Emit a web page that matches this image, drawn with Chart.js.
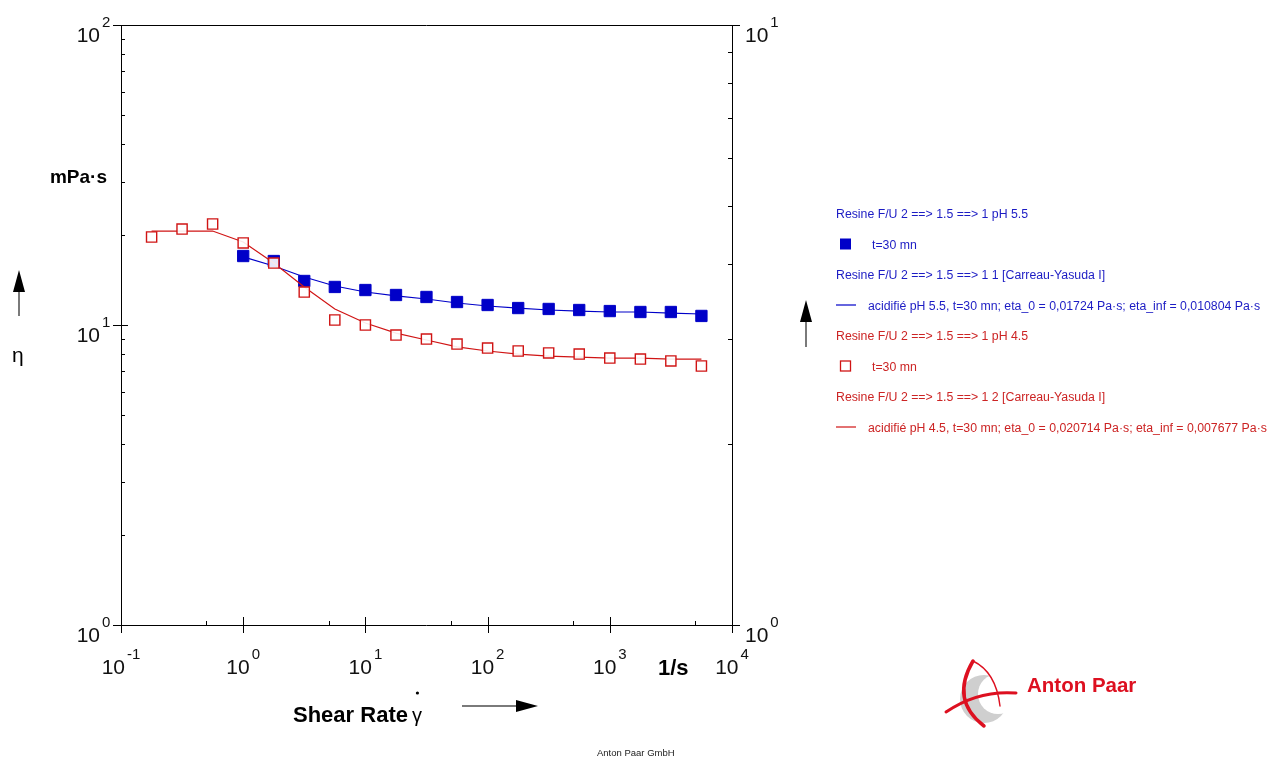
<!DOCTYPE html>
<html>
<head>
<meta charset="utf-8">
<script src="https://cdn.jsdelivr.net/npm/chart.js@4"></script>
<style>
  html, body { margin: 0; padding: 0; background: #fff; }
  #wrap { width: 1277px; height: 761px; }
</style>
</head>
<body>
<div id="wrap"><canvas id="chart" width="1277" height="761"></canvas></div>
<script>
// shear rate, 1/s (same grid for both samples, pH 5.5 starts at 1 1/s)
const shearRate = [0.178, 0.316, 0.562, 1, 1.78, 3.16, 5.62, 10, 17.8, 31.6, 56.2, 100, 178, 316, 562, 1000, 1780, 3160, 5620];

// viscosity, mPa·s
const etaPh55    = [16.98, 16.34, 14.02, 13.39, 13.08, 12.59, 12.40, 11.93, 11.66, 11.39, 11.31, 11.22, 11.13, 11.05, 11.05, 10.72];
const etaPh55Fit = [16.86, 15.73, 14.45, 13.49, 12.88, 12.50, 12.21, 11.84, 11.57, 11.39, 11.22, 11.13, 11.05, 11.05, 10.96, 10.88];
const etaPh45    = [19.65, 20.89, 21.71, 18.77, 16.09, 12.88, 10.39, 10.00, 9.26, 8.98, 8.64, 8.38, 8.19, 8.07, 8.00, 7.76, 7.70, 7.59, 7.30];
const etaPh45Fit = [20.57, 20.57, 20.57, 18.91, 16.09, 13.39, 11.31, 10.15, 9.40, 8.91, 8.45, 8.19, 8.00, 7.88, 7.82, 7.76, 7.76, 7.70, 7.70];

// tick exponents
const xTickExp = [-1, 0, 1, 2, 3, 4];
const yTickExp = [0, 1, 2];
const y2TickExp = [0, 1];

const BLUE = '#0000c8';
const RED = '#d01414';
const BLUE_TXT = '#1c1cc4';
const RED_TXT = '#cc2424';

const legendRows = [
  { text: 'Resine F/U 2 ==> 1.5 ==> 1 pH 5.5', color: BLUE_TXT },
  { text: 't=30 mn', color: BLUE_TXT, mark: 'filled' },
  { text: 'Resine F/U 2 ==> 1.5 ==> 1 1 [Carreau-Yasuda I]', color: BLUE_TXT },
  { text: 'acidifié pH 5.5, t=30 mn; eta_0 = 0,01724 Pa·s; eta_inf = 0,010804 Pa·s', color: BLUE_TXT, mark: 'line' },
  { text: 'Resine F/U 2 ==> 1.5 ==> 1 pH 4.5', color: RED_TXT },
  { text: 't=30 mn', color: RED_TXT, mark: 'open' },
  { text: 'Resine F/U 2 ==> 1.5 ==> 1 2 [Carreau-Yasuda I]', color: RED_TXT },
  { text: 'acidifié pH 4.5, t=30 mn; eta_0 = 0,020714 Pa·s; eta_inf = 0,007677 Pa·s', color: RED_TXT, mark: 'line' },
];

const toPoints = (xs, ys) => ys.map((v, i) => ({ x: xs[i], y: v }));
const blueX = shearRate.slice(shearRate.length - etaPh55.length);

const FONT = '"Liberation Sans", Arial, sans-serif';

function powLabel(ctx, exp, x, y, align, big, small) {
  // "10" with superscript exponent; y is baseline of the "10"
  ctx.font = big + 'px ' + FONT;
  const wb = ctx.measureText('10').width;
  ctx.font = small + 'px ' + FONT;
  const we = ctx.measureText(String(exp)).width;
  let x0 = x;
  if (align === 'center') x0 = x - (wb + 2 + we) / 2;
  if (align === 'right') x0 = x - wb;
  ctx.textAlign = 'left';
  ctx.font = big + 'px ' + FONT;
  ctx.fillText('10', x0, y);
  ctx.font = small + 'px ' + FONT;
  ctx.fillText(String(exp), x0 + wb + 2, y - 15);
}

function arrow(ctx, x1, y1, x2, y2) {
  const a = Math.atan2(y2 - y1, x2 - x1);
  const hl = 22, hw = 6;
  const bx = x2 - hl * Math.cos(a), by = y2 - hl * Math.sin(a);
  ctx.strokeStyle = '#7a7a7a';
  ctx.lineWidth = 2;
  ctx.beginPath(); ctx.moveTo(x1, y1); ctx.lineTo(bx, by); ctx.stroke();
  ctx.fillStyle = '#000';
  ctx.beginPath();
  ctx.moveTo(x2, y2);
  ctx.lineTo(bx + hw * Math.sin(a), by - hw * Math.cos(a));
  ctx.lineTo(bx - hw * Math.sin(a), by + hw * Math.cos(a));
  ctx.closePath(); ctx.fill();
}

const frame = {
  id: 'frame',
  afterDraw(chart) {
    const ctx = chart.ctx;
    const { x, y, y2 } = chart.scales;
    const { left: L, right: R, top: T, bottom: B } = chart.chartArea;
    ctx.save();
    ctx.strokeStyle = '#000';
    ctx.lineWidth = 1;
    const seg = (a, b, c, d) => { ctx.beginPath(); ctx.moveTo(a, b); ctx.lineTo(c, d); ctx.stroke(); };

    // box
    seg(L - 8, T + 0.5, R + 8, T + 0.5);
    seg(L - 8, B + 0.5, R + 8, B + 0.5);
    seg(L + 0.5, T, L + 0.5, B + 8);
    seg(R + 0.5, T, R + 0.5, B + 8);

    // left axis ticks
    for (const e of [0, 1]) {
      for (let m = 2; m <= 9; m++) {
        const p = Math.round(y.getPixelForValue(m * Math.pow(10, e))) + 0.5;
        seg(L, p, L + 4, p);
      }
    }
    const p10 = Math.round(y.getPixelForValue(10)) + 0.5;
    seg(L - 8, p10, L + 7, p10);

    // right axis ticks
    for (let m = 2; m <= 9; m++) {
      const p = Math.round(y2.getPixelForValue(m)) + 0.5;
      seg(R - 4, p, R, p);
    }

    // bottom axis ticks
    for (const e of xTickExp) {
      const p = Math.round(x.getPixelForValue(Math.pow(10, e))) + 0.5;
      seg(p, B - 8, p, B + 8);
      if (e < 4) {
        const q = Math.round(x.getPixelForValue(5 * Math.pow(10, e))) + 0.5;
        seg(q, B - 4, q, B);
      }
    }

    // tick labels
    ctx.fillStyle = '#111';
    ctx.textBaseline = 'alphabetic';
    for (const e of yTickExp) {
      const p = y.getPixelForValue(Math.pow(10, e));
      powLabel(ctx, e, L - 21, p + 17, 'right', 21, 15);
    }
    for (const e of y2TickExp) {
      const p = y2.getPixelForValue(Math.pow(10, e));
      powLabel(ctx, e, R + 13, p + 17, 'left', 21, 15);
    }
    for (const e of xTickExp) {
      const p = x.getPixelForValue(Math.pow(10, e));
      powLabel(ctx, e, p, B + 49, 'center', 21, 15);
    }

    // axis titles
    ctx.fillStyle = '#000';
    ctx.font = 'bold 19px ' + FONT;
    ctx.textAlign = 'right';
    ctx.fillText('mPa·s', 107, 183);
    ctx.textAlign = 'left';
    ctx.font = '21px ' + FONT;
    ctx.fillText('η', 12, 362);
    arrow(ctx, 19, 316, 19, 270);
    arrow(ctx, 806, 347, 806, 300);

    ctx.font = 'bold 22px ' + FONT;
    ctx.fillText('Shear Rate', 293, 722);
    const sw = ctx.measureText('Shear Rate').width;
    ctx.font = '20px ' + FONT;
    ctx.fillText('γ', 293 + sw + 4, 722);
    const gw = ctx.measureText('γ').width;
    ctx.beginPath();
    ctx.arc(293 + sw + 4 + gw / 2 + 0.5, 693, 1.6, 0, Math.PI * 2);
    ctx.fill();
    arrow(ctx, 462, 706, 538, 706);

    ctx.font = 'bold 22px ' + FONT;
    ctx.fillText('1/s', 658, 675);

    // legend
    ctx.font = '12.3px ' + FONT;
    legendRows.forEach((row, i) => {
      const by = 218 + i * 30.5;
      ctx.fillStyle = row.color;
      if (!row.mark) {
        ctx.fillText(row.text, 836, by);
        return;
      }
      const stroke = row.color === BLUE_TXT ? BLUE : RED;
      if (row.mark === 'filled') {
        ctx.fillStyle = stroke;
        ctx.fillRect(840, by - 10, 11, 11);
      } else if (row.mark === 'open') {
        ctx.strokeStyle = stroke; ctx.lineWidth = 1.3;
        ctx.strokeRect(840.5, by - 9.5, 10, 10);
      } else {
        ctx.strokeStyle = stroke; ctx.lineWidth = 1.2;
        seg(836, by - 4.5, 856, by - 4.5);
      }
      ctx.fillStyle = row.color;
      ctx.fillText(row.text, row.mark === 'line' ? 868 : 872, by);
    });

    // footer + logo
    ctx.fillStyle = '#222';
    ctx.font = '9.5px ' + FONT;
    ctx.fillText('Anton Paar GmbH', 597, 756);

    ctx.fillStyle = '#cfcfcf';
    ctx.beginPath(); ctx.arc(984, 699, 24, 0, Math.PI * 2); ctx.fill();
    ctx.fillStyle = '#fff';
    ctx.beginPath(); ctx.arc(998, 694, 20, 0, Math.PI * 2); ctx.fill();
    ctx.strokeStyle = '#dd1020';
    ctx.lineCap = 'round';
    ctx.lineWidth = 3.5;
    ctx.beginPath(); ctx.moveTo(973, 661); ctx.quadraticCurveTo(950, 700, 984, 726); ctx.stroke();
    ctx.lineWidth = 3;
    ctx.beginPath(); ctx.moveTo(946, 712); ctx.quadraticCurveTo(978, 690, 1016, 693); ctx.stroke();
    ctx.lineWidth = 1.4;
    ctx.beginPath(); ctx.moveTo(973, 661); ctx.quadraticCurveTo(996, 672, 1000, 706); ctx.stroke();
    ctx.fillStyle = '#dd1020';
    ctx.font = 'bold 20.5px ' + FONT;
    ctx.fillText('Anton Paar', 1027, 692);

    ctx.restore();
  }
};

new Chart(document.getElementById('chart'), {
  type: 'line',
  data: {
    datasets: [
      {
        label: 'fit pH 5.5',
        data: toPoints(blueX, etaPh55Fit),
        borderColor: BLUE, borderWidth: 1.2,
        pointRadius: 0, tension: 0, fill: false, order: 4,
      },
      {
        label: 'pH 5.5',
        data: toPoints(blueX, etaPh55),
        showLine: false, pointStyle: 'rect', pointRadius: 8,
        backgroundColor: BLUE, borderColor: BLUE, borderWidth: 1, order: 3,
      },
      {
        label: 'fit pH 4.5',
        data: toPoints(shearRate, etaPh45Fit),
        borderColor: RED, borderWidth: 1.2,
        pointRadius: 0, tension: 0, fill: false, order: 2,
      },
      {
        label: 'pH 4.5',
        data: toPoints(shearRate, etaPh45),
        showLine: false, pointStyle: 'rect', pointRadius: 7.2,
        backgroundColor: 'rgba(255,255,255,0.9)', borderColor: RED, borderWidth: 1.4, order: 1,
      },
    ]
  },
  options: {
    responsive: false,
    animation: false,
    events: [],
    layout: { padding: { left: 121, right: 545, top: 25, bottom: 136 } },
    plugins: { legend: { display: false }, tooltip: { enabled: false } },
    scales: {
      x: { type: 'logarithmic', min: 0.1, max: 10000, display: false },
      y: { type: 'logarithmic', min: 1, max: 100, display: false },
      y2: { type: 'logarithmic', min: 1, max: 10, display: false, position: 'right' },
    }
  },
  plugins: [frame]
});
</script>
</body>
</html>
